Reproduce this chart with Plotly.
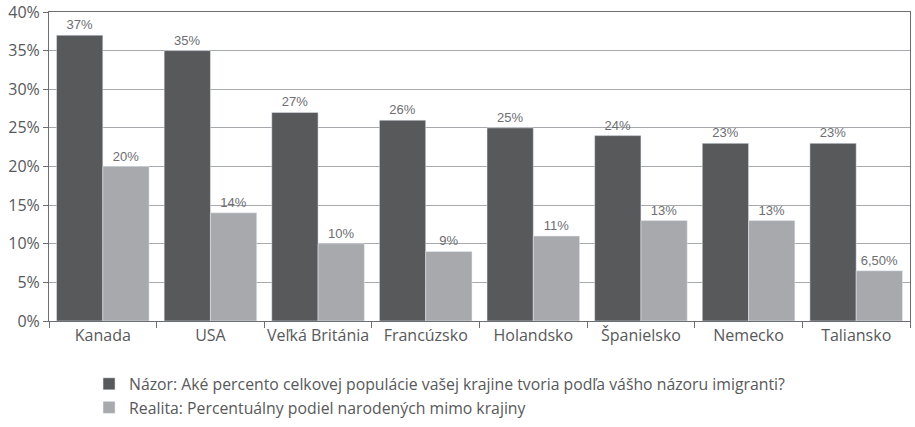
import plotly.graph_objects as go

categories = ["Kanada", "USA", "Veľká Británia", "Francúzsko", "Holandsko", "Španielsko", "Nemecko", "Taliansko"]
nazor = [37, 35, 27, 26, 25, 24, 23, 23]
realita = [20, 14, 10, 9, 11, 13, 13, 6.5]
nazor_labels = ["37%", "35%", "27%", "26%", "25%", "24%", "23%", "23%"]
realita_labels = ["20%", "14%", "10%", "9%", "11%", "13%", "13%", "6,50%"]
series_names = ["Názor: Aké percento celkovej populácie vašej krajine tvoria podľa vášho názoru imigranti?",
                "Realita: Percentuálny podiel narodených mimo krajiny"]
ytick_vals = [0, 5, 10, 15, 20, 25, 30, 35, 40]
ytick_text = ["0%", "5%", "10%", "15%", "20%", "25%", "30%", "35%", "40%"]

fig = go.Figure()
fig.add_trace(go.Bar(x=categories, y=nazor, name=series_names[0], marker_color="#58595b",
                     text=nazor_labels, textposition="outside", cliponaxis=False,
                     textfont=dict(family="Liberation Sans, Arial", size=13, color="#6d6e71")))
fig.add_trace(go.Bar(x=categories, y=realita, name=series_names[1], marker_color="#a7a9ac",
                     text=realita_labels, textposition="outside", cliponaxis=False,
                     textfont=dict(family="Liberation Sans, Arial", size=13, color="#6d6e71")))

fig.update_layout(
    width=915, height=427,
    margin=dict(l=49, r=5, t=12, b=106, autoexpand=False),
    paper_bgcolor="white", plot_bgcolor="white",
    barmode="group", bargap=0.14, bargroupgap=0,
    font=dict(family="Open Sans, Noto Sans, sans-serif", size=14, color="#58595b"),
    showlegend=True,
    legend=dict(orientation="v", x=0.0465, xanchor="left", y=-0.149, yanchor="top",
                font=dict(size=15.8, color="#58595b"), traceorder="normal",
                tracegroupgap=0, itemwidth=30),
)
fig.update_xaxes(showline=True, linecolor="#6d6e71", linewidth=1, mirror=True,
                 ticks="outside", ticklen=6, tickcolor="#6d6e71", tickson="boundaries",
                 tickangle=0, tickfont=dict(size=16, color="#58595b"), showgrid=False)
fig.update_yaxes(range=[0, 40], tickvals=ytick_vals, ticktext=ytick_text,
                 showline=True, linecolor="#6d6e71", linewidth=1, mirror=True,
                 ticks="outside", ticklen=5, tickcolor="#6d6e71",
                 showgrid=True, gridcolor="#a7a9ac", gridwidth=1,
                 tickfont=dict(size=16, color="#58595b"), zeroline=False)

fig.write_html("out.html", config={"displayModeBar": False},
               post_script="document.body.style.margin='0';")
